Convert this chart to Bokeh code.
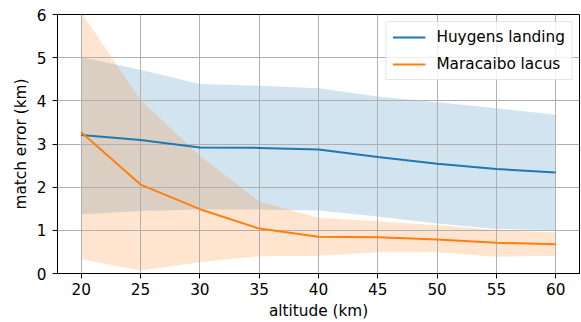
from bokeh.plotting import figure
from bokeh.models import Legend, LegendItem, FixedTicker, Range1d
from bokeh.embed import file_html
from bokeh.resources import INLINE

altitude = [20, 25, 30, 35, 40, 45, 50, 55, 60]
huygens_mean = [3.21, 3.09, 2.92, 2.91, 2.87, 2.70, 2.54, 2.42, 2.34]
huygens_upper = [5.01, 4.72, 4.39, 4.35, 4.29, 4.10, 3.97, 3.83, 3.68]
huygens_lower = [1.37, 1.45, 1.48, 1.48, 1.46, 1.32, 1.16, 1.03, 1.01]
maracaibo_mean = [3.27, 2.06, 1.49, 1.04, 0.85, 0.84, 0.79, 0.71, 0.68]
maracaibo_upper = [6.05, 4.02, 2.73, 1.67, 1.29, 1.21, 1.12, 1.01, 0.95]
maracaibo_lower = [0.33, 0.07, 0.26, 0.40, 0.41, 0.49, 0.49, 0.39, 0.41]

x_ticks = [20, 25, 30, 35, 40, 45, 50, 55, 60]
y_ticks = [0, 1, 2, 3, 4, 5, 6]

BLUE = "#1f77b4"
ORANGE = "#ff7f0e"
FONT = "DejaVu Sans"
FS = "15.3px"

p = figure(width=581, height=322, output_backend="svg", toolbar_location=None,
           x_range=Range1d(18, 62), y_range=Range1d(0, 6),
           min_border_left=57, min_border_right=2, min_border_top=14, min_border_bottom=49)

a1 = p.varea(x=altitude, y1=huygens_lower, y2=huygens_upper, fill_color=BLUE, fill_alpha=0.2)
a2 = p.varea(x=altitude, y1=maracaibo_lower, y2=maracaibo_upper, fill_color=ORANGE, fill_alpha=0.2)
a1.level = "image"
a2.level = "image"

l1 = p.line(altitude, huygens_mean, line_color=BLUE, line_width=2)
l2 = p.line(altitude, maracaibo_mean, line_color=ORANGE, line_width=2)

p.outline_line_color = "black"
p.outline_line_width = 1
p.outline_line_alpha = 1

for ax in (p.xaxis[0], p.yaxis[0]):
    ax.axis_line_color = "black"
    ax.major_tick_line_color = "black"
    ax.minor_tick_line_color = None
    ax.major_tick_out = 5
    ax.major_tick_in = 0
    ax.major_label_text_font = FONT
    ax.major_label_text_font_size = FS
    ax.major_label_text_color = "black"
    ax.axis_label_text_font = FONT
    ax.axis_label_text_font_size = FS
    ax.axis_label_text_font_style = "normal"
    ax.axis_label_text_color = "black"

p.xaxis.ticker = FixedTicker(ticks=x_ticks)
p.yaxis.ticker = FixedTicker(ticks=y_ticks)
p.xaxis.axis_label = "altitude (km)"
p.yaxis.axis_label = "match error (km)"
p.xaxis.major_label_standoff = 4
p.xaxis.axis_label_standoff = 4
p.yaxis.major_label_standoff = 6
p.yaxis.axis_label_standoff = 4

p.xgrid.ticker = FixedTicker(ticks=x_ticks)
p.ygrid.ticker = FixedTicker(ticks=y_ticks)
for g in (p.xgrid[0], p.ygrid[0]):
    g.grid_line_color = "#b0b0b0"
    g.grid_line_width = 1
    g.grid_line_alpha = 1

legend = Legend(items=[LegendItem(label="Huygens landing", renderers=[l1]),
                       LegendItem(label="Maracaibo lacus", renderers=[l2])],
                location="top_right")
legend.label_text_font = FONT
legend.label_text_font_size = FS
legend.label_text_color = "black"
legend.glyph_width = 33
legend.glyph_height = 14
legend.label_height = 14
legend.label_standoff = 11
legend.padding = 6
legend.spacing = 9
legend.margin = 7
legend.border_line_color = "#cccccc"
legend.border_line_width = 1
legend.background_fill_alpha = 0.8
p.add_layout(legend)

open("out.html", "w").write(file_html(p, INLINE))
